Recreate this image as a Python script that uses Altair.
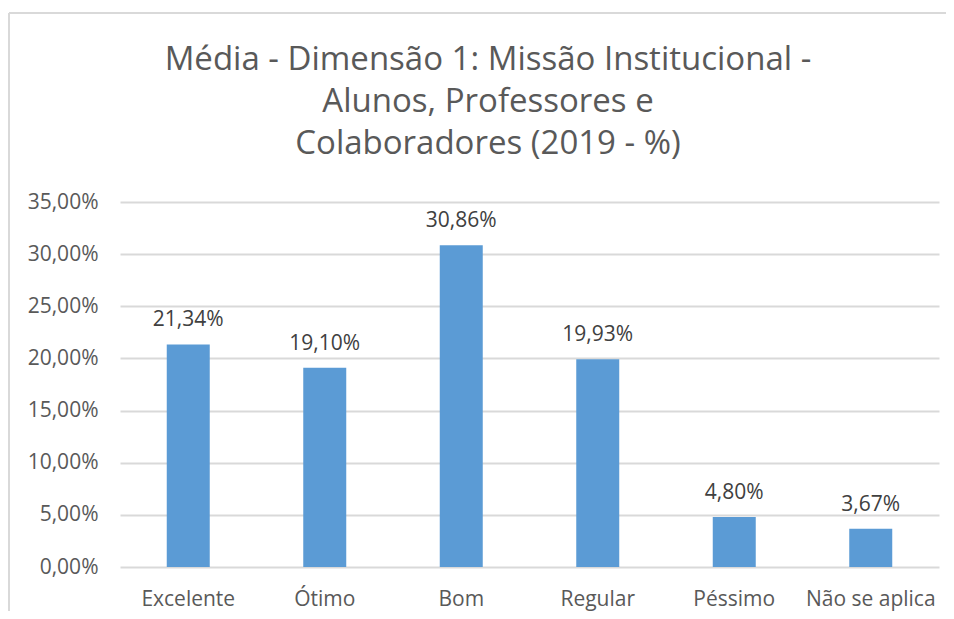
import altair as alt
import pandas as pd

categories = ["Excelente", "Ótimo", "Bom", "Regular", "Péssimo", "Não se aplica"]
values = [21.34, 19.10, 30.86, 19.93, 4.80, 3.67]
labels = ["21,34%", "19,10%", "30,86%", "19,93%", "4,80%", "3,67%"]
title_lines = ["Média - Dimensão 1: Missão Institucional -", "Alunos, Professores e", "Colaboradores (2019 - %)"]

df = pd.DataFrame({"cat": categories, "val": values, "lab": labels})
one = pd.DataFrame({"k": [0]})

FONT = "Open Sans"
TXT = "#595959"

base = alt.Chart(df)

x = alt.X("cat:N", sort=categories, title=None,
          scale=alt.Scale(paddingInner=0.685, paddingOuter=0.3425),
          axis=alt.Axis(labelAngle=0, labelFont=FONT, labelFontSize=21, labelColor=TXT,
                        labelPadding=21, ticks=False, domain=False, grid=False))
y = alt.Y("val:Q", title=None,
          scale=alt.Scale(domain=[0, 35]),
          axis=alt.Axis(values=[0, 5, 10, 15, 20, 25, 30, 35],
                        labelExpr="replace(format(datum.value, '.2f'), '.', ',') + '%'",
                        labelFont=FONT, labelFontSize=21, labelColor=TXT, labelPadding=22,
                        ticks=False, domain=False, grid=True, gridColor="#D9D9D9", gridWidth=2))

bars = base.mark_bar(color="#5B9BD5", size=43).encode(x=x, y=y)
text = base.mark_text(font=FONT, fontSize=21, color="#404040", baseline="alphabetic", dy=-18).encode(
    x=alt.X("cat:N", sort=categories), y="val:Q", text="lab:N")

title = alt.Chart(one).mark_text(text=title_lines, font=FONT, fontSize=33, lineHeight=42,
                                 color=TXT, align="center", baseline="alphabetic").encode(
    x=alt.value(368), y=alt.value(-132))

border_left = alt.Chart(one).mark_rule(color="#D9D9D9", strokeWidth=2).encode(
    x=alt.value(-111), y=alt.value(-189), y2=alt.value(420))
border_top = alt.Chart(one).mark_rule(color="#D9D9D9", strokeWidth=2).encode(
    x=alt.value(-111), x2=alt.value(840), y=alt.value(-189))

chart = alt.layer(border_left, border_top, bars, text, title).properties(
    width=819, height=365,
    padding={"left": 112, "top": 194, "right": 7, "bottom": 44},
    autosize=alt.AutoSizeParams(type="none"),
).configure(background="white").configure_view(stroke=None)

chart.save("out.html", embed_options={"renderer": "svg", "actions": False})
